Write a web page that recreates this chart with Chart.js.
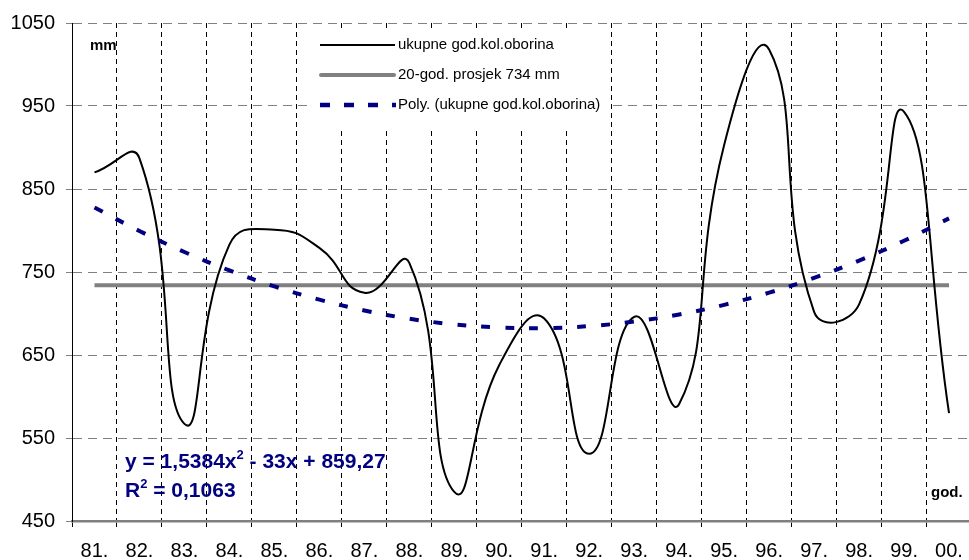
<!DOCTYPE html>
<html><head><meta charset="utf-8">
<script src="https://cdn.jsdelivr.net/npm/chart.js@4.4.1/dist/chart.umd.min.js"></script>
<style>
html,body{margin:0;padding:0;overflow:hidden;background:#fff;}
#wrap{position:relative;width:975px;height:560px;}
</style></head><body>
<div id="wrap"><canvas id="c"></canvas></div>
<script>
const years = ['81.','82.','83.','84.','85.','86.','87.','88.','89.','90.','91.','92.','93.','94.','95.','96.','97.','98.','99.','00.'];
const rainfall = [870, 887, 567, 783, 801, 779, 725, 761, 485, 638, 694, 531, 696, 591, 903, 1018, 702, 711, 943, 580];
const average = [734, 734, 734, 734, 734, 734, 734, 734, 734, 734, 734, 734, 734, 734, 734, 734, 734, 734, 734, 734];
const polyTrend = [827.8, 799.4, 774.1, 751.9, 732.7, 716.7, 703.7, 693.7, 686.9, 683.1, 682.4, 684.8, 690.3, 698.8, 710.4, 725.1, 742.9, 763.7, 787.6, 814.6];
const yTicks = [450, 550, 650, 750, 850, 950, 1050];
const legendLabels = ['ukupne god.kol.oborina', '20-god. prosjek 734 mm', 'Poly. (ukupne god.kol.oborina)'];

const FONT = '"Liberation Sans", Arial, sans-serif';

const overlay = {
  id: 'overlay',
  beforeDatasetsDraw(chart) {
    const ctx = chart.ctx;
    ctx.save();
    ctx.fillStyle = '#fff';
    ctx.fillRect(308, 28, 300, 99);
    ctx.restore();
  },
  afterDraw(chart) {
    const ctx = chart.ctx;
    ctx.save();
    ctx.lineCap = 'butt';
    ctx.strokeStyle = '#000'; ctx.lineWidth = 2;
    ctx.beginPath(); ctx.moveTo(320, 45); ctx.lineTo(395, 45); ctx.stroke();
    ctx.strokeStyle = '#808080'; ctx.lineWidth = 4; ctx.lineCap = 'round';
    ctx.beginPath(); ctx.moveTo(321, 75); ctx.lineTo(394, 75); ctx.stroke();
    ctx.lineCap = 'butt';
    ctx.strokeStyle = '#000080'; ctx.lineWidth = 4.5; ctx.setLineDash([10, 14]);
    ctx.beginPath(); ctx.moveTo(320, 105); ctx.lineTo(396, 105); ctx.stroke();
    ctx.setLineDash([]);
    ctx.fillStyle = '#000';
    ctx.font = '15px ' + FONT;
    ctx.textBaseline = 'middle';
    ctx.textAlign = 'left';
    ctx.fillText(legendLabels[0], 398, 45);
    ctx.fillText(legendLabels[1], 398, 75);
    ctx.fillText(legendLabels[2], 398, 105);
    ctx.font = 'bold 15px ' + FONT;
    ctx.fillText('mm', 90, 46);
    ctx.fillText('god.', 931, 493);
    ctx.fillStyle = '#000080';
    const big = 'bold 21px ' + FONT, sup = 'bold 13px ' + FONT;
    const drawParts = (parts, y) => {
      let cx = 125;
      for (const [t, s] of parts) {
        ctx.font = s ? sup : big;
        ctx.fillText(t, cx, s ? y - 7 : y);
        cx += ctx.measureText(t).width;
      }
    };
    drawParts([['y = 1,5384x', false], ['2', true], [' - 33x + 859,27', false]], 462);
    drawParts([['R', false], ['2', true], [' = 0,1063', false]], 491);
    ctx.restore();
  }
};

new Chart(document.getElementById('c'), {
  type: 'line',
  data: {
    labels: years,
    datasets: [
      {
        label: legendLabels[2], data: polyTrend, borderColor: '#000080', borderWidth: 4,
        borderDash: [9, 15], pointRadius: 0, tension: 0.4, fill: false
      },
      {
        label: legendLabels[0], data: rainfall, borderColor: '#000', borderWidth: 2,
        pointRadius: 0, tension: 0.5, fill: false
      },
      {
        label: legendLabels[1], data: average, borderColor: '#808080', borderWidth: 4,
        pointRadius: 0, tension: 0, fill: false
      }
    ]
  },
  options: {
    responsive: true, maintainAspectRatio: false, animation: false, devicePixelRatio: 1,
    layout: { padding: { top: 23, right: 3, left: 0, bottom: 0 } },
    plugins: { legend: { display: false }, tooltip: { enabled: false } },
    scales: {
      x: {
        type: 'category', offset: true,
        grid: { offset: true, color: '#000', lineWidth: 1, tickLength: 6, tickColor: '#000' },
        border: { display: true, color: '#808080', width: 2.5, dash: [5, 4] },
        ticks: { color: '#000', font: { family: FONT, size: 20 }, padding: 12, maxRotation: 0, autoSkip: false },
        afterFit: a => { a.height = 39; }
      },
      y: {
        min: 450, max: 1050,
        afterBuildTicks: a => { a.ticks = yTicks.map(v => ({ value: v })); },
        grid: { color: '#808080', lineWidth: 1, tickLength: 6, tickColor: '#808080' },
        border: { display: true, color: '#000', width: 1, dash: [9, 6] },
        ticks: { color: '#000', font: { family: FONT, size: 20 }, padding: 11, callback: v => String(v) },
        afterFit: a => { a.width = 72; }
      }
    }
  },
  plugins: [overlay]
});
</script>
</body></html>
